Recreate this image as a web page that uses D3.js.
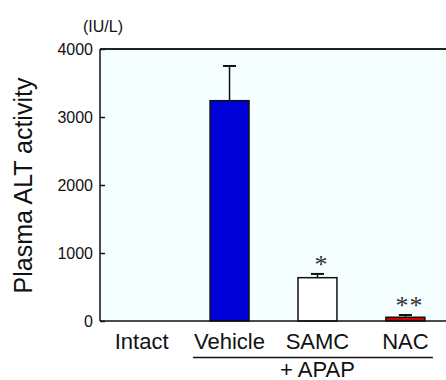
<!DOCTYPE html>
<html lang="en">
  <head>
    <meta charset="utf-8">
    <title>Plasma ALT activity</title>
    <script src="https://d3js.org/d3.v7.min.js"></script>
    <style>
      body { margin: 0; background: #fff; }
      text { font-family: "Liberation Sans", Arial, sans-serif; fill: #111; }
    </style>
  </head>
  <body>
    <svg id="chart" width="446" height="380"></svg>
    <script>
      // data
      var groups = ["Intact", "Vehicle", "SAMC", "NAC"];
      var means = [0, 3240, 637, 55];
      var errors = [0, 510, 55, 33];
      var marks = ["", "", "*", "**"];
      var fills = ["none", "#0000d8", "#ffffff", "#d40000"];
      var yTicks = [0, 1000, 2000, 3000, 4000];

      var svg = d3.select("#chart");
      var plotL = 100, plotT = 49, plotB = 321, plotR = 450;

      var x = d3.scaleBand().domain(groups).range([97.5, 449.5]).paddingInner(0.557).paddingOuter(0.28);
      var y = d3.scaleLinear().domain([0, 4000]).range([plotB, plotT]);

      // plot background
      svg.append("rect")
        .attr("x", plotL).attr("y", plotT)
        .attr("width", plotR - plotL).attr("height", plotB - plotT)
        .attr("fill", "#f5ffff");

      // error bars (upper only)
      var eb = svg.append("g");
      groups.forEach(function (g, i) {
        if (!errors[i]) return;
        var cx = x(g) + x.bandwidth() / 2;
        eb.append("line")
          .attr("x1", cx).attr("x2", cx)
          .attr("y1", y(means[i])).attr("y2", y(means[i] + errors[i]))
          .attr("stroke", "#111").attr("stroke-width", 1.5);
        eb.append("line")
          .attr("x1", cx - 6.5).attr("x2", cx + 6.5)
          .attr("y1", y(means[i] + errors[i])).attr("y2", y(means[i] + errors[i]))
          .attr("stroke", "#111").attr("stroke-width", 2);
      });

      // bars
      svg.selectAll("rect.bar")
        .data(groups.filter(function (g, i) { return means[i] > 0; }))
        .enter().append("rect")
        .attr("class", "bar")
        .attr("x", function (d) { return x(d); })
        .attr("width", x.bandwidth())
        .attr("y", function (d) { return y(means[groups.indexOf(d)]); })
        .attr("height", function (d) { return plotB - y(means[groups.indexOf(d)]); })
        .attr("fill", function (d) { return fills[groups.indexOf(d)]; })
        .attr("stroke", "#111").attr("stroke-width", 1.5);

      // significance marks
      svg.selectAll("text.sig")
        .data(groups)
        .enter().append("text")
        .attr("class", "sig")
        .attr("x", function (d) { return x(d) + x.bandwidth() / 2 + 4; })
        .attr("y", function (d, i) { return y(means[i] + errors[i]) - 1; })
        .attr("text-anchor", "middle")
        .style("font-family", "'Liberation Serif', 'Times New Roman', serif")
        .style("font-size", "26px")
        .attr("letter-spacing", "1")
        .style("fill", "#333")
        .text(function (d, i) { return marks[i]; });

      // y axis with inward ticks
      var yAxis = d3.axisLeft(y).tickValues(yTicks).tickSize(-5).tickPadding(7).tickFormat(d3.format("d"));
      var ya = svg.append("g").attr("transform", "translate(" + plotL + ",0)").call(yAxis);
      ya.select(".domain").remove();
      ya.selectAll(".tick line").attr("stroke", "#111").attr("stroke-width", 1.5);
      ya.selectAll("text").style("font-size", "16px").style("font-family", "'Liberation Sans', Arial, sans-serif").attr("fill", "#111");

      // frame lines: left, top, bottom
      svg.append("line").attr("x1", plotL).attr("x2", plotL).attr("y1", plotT).attr("y2", plotB)
        .attr("stroke", "#111").attr("stroke-width", 1.5);
      svg.append("line").attr("x1", plotL).attr("x2", plotR).attr("y1", plotT).attr("y2", plotT)
        .attr("stroke", "#222").attr("stroke-width", 2);
      svg.append("line").attr("x1", plotL).attr("x2", plotR).attr("y1", plotB).attr("y2", plotB)
        .attr("stroke", "#111").attr("stroke-width", 1.5);

      // category labels
      svg.selectAll("text.cat")
        .data(groups)
        .enter().append("text")
        .attr("class", "cat")
        .attr("x", function (d) { return x(d) + x.bandwidth() / 2; })
        .attr("y", 349)
        .attr("text-anchor", "middle")
        .style("font-size", "22px")
        .text(function (d) { return d; });

      // treatment group line and label
      svg.append("line")
        .attr("x1", x("Vehicle") - 17).attr("x2", x("NAC") + x.bandwidth() + 8)
        .attr("y1", 357.5).attr("y2", 357.5)
        .attr("stroke", "#111").attr("stroke-width", 1.5);
      svg.append("text")
        .attr("x", x("SAMC") + x.bandwidth() / 2)
        .attr("y", 377)
        .attr("text-anchor", "middle")
        .style("font-size", "22px")
        .text("+ APAP");

      // axis titles
      svg.append("text")
        .attr("transform", "translate(32,185.5) rotate(-90)")
        .attr("text-anchor", "middle")
        .style("font-size", "25px")
        .text("Plasma ALT activity");
      svg.append("text")
        .attr("x", 103).attr("y", 32)
        .attr("text-anchor", "middle")
        .style("font-size", "16px")
        .text("(IU/L)");
    </script>
  </body>
</html>
